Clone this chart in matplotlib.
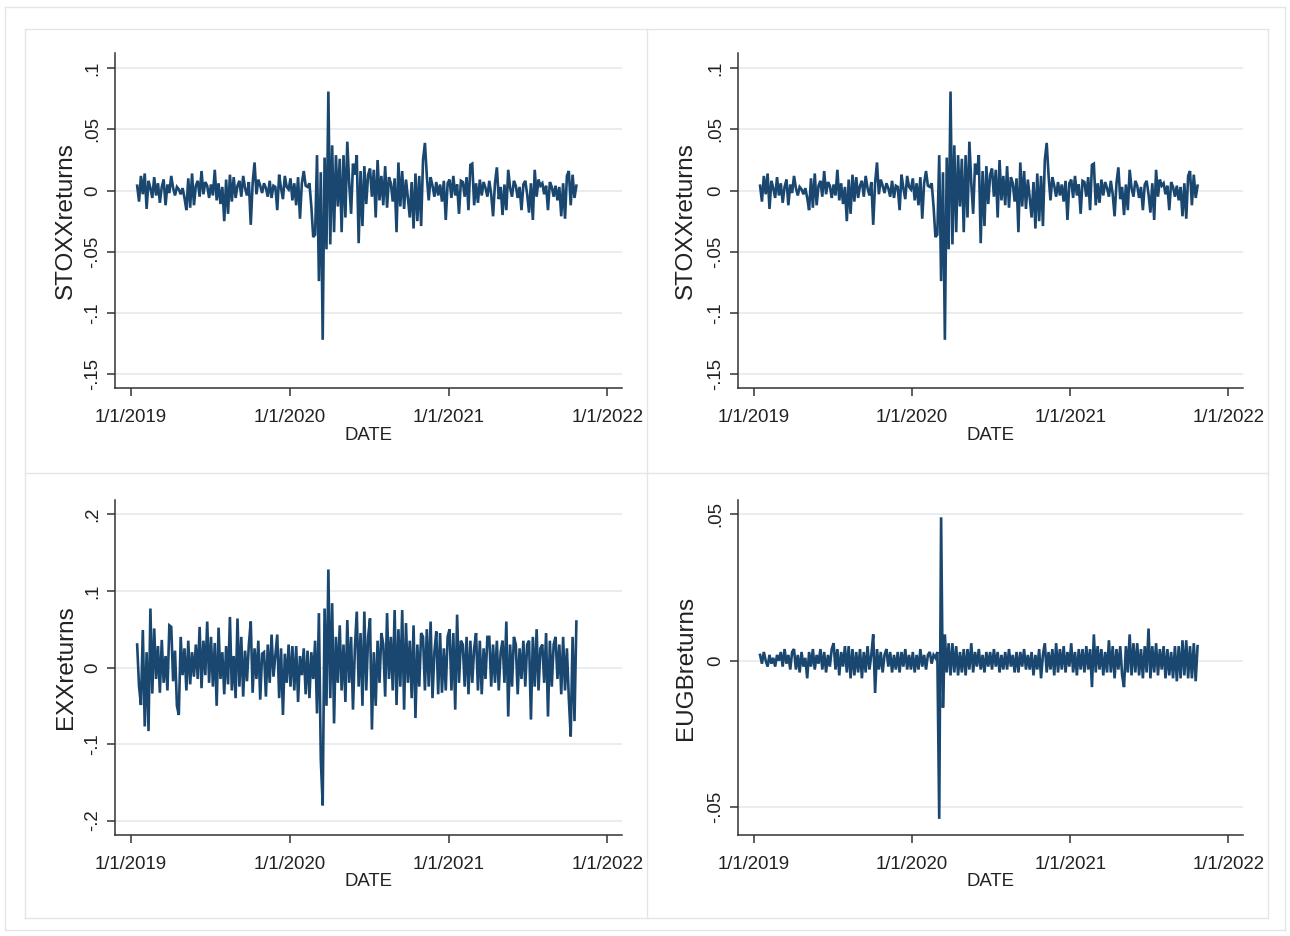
import numpy as np
import pandas as pd
import matplotlib
matplotlib.use("Agg")
import matplotlib.pyplot as plt
import matplotlib.dates as mdates
from matplotlib.lines import Line2D
from matplotlib.ticker import FuncFormatter, FixedLocator

plt.rcParams['font.family'] = ['Liberation Sans', 'DejaVu Sans']

# ---------------- data (~7 readings per month) ----------------
start_date, end_date = '2019-01-15', '2021-10-22'

stoxx_returns = [
    .004, -.009, .012, -.003,                      # Jan 19
    .014, -.015, .008, .002, -.006, .011, -.004,   # Feb 19
    .006, -.010, .003, .009, -.012, .005, -.002,   # Mar 19
    .012, .002, -.004, .003, .001, -.003, .002,    # Apr 19
    -.006, -.016, .010, -.014, .014, -.012, .004,  # May 19
    .008, -.005, .016, -.003, .007, .004, -.006,   # Jun 19
    .005, -.004, .017, -.008, .006, -.011, .003,   # Jul 19
    -.025, .009, -.019, .013, -.009, .011, -.006,  # Aug 19
    .004, .008, -.005, .012, .002, -.004, .007,    # Sep 19
    -.028, .006, .023, -.003, .009, .004, -.002,   # Oct 19
    .006, .002, -.005, .008, -.006, .004, .003,    # Nov 19
    -.016, .013, .002, -.007, .012, .003, .001,    # Dec 19
    .010, -.008, .006, -.012, .011, -.023, .006,   # Jan 20
    .016, .004, .003, .006, -.013, -.038, -.036,   # Feb 20
    .029, -.074, .015, -.122, .027, -.048, .081,   # Mar 20
    -.044, .037, -.034, .029, -.013, .026, -.034,  # Apr 20
    .029, -.022, .040, .006, -.019, .022, .013,    # May 20
    .029, -.043, .016, -.029, .020, -.011, .013,   # Jun 20
    .018, -.005, .017, -.022, .025, -.008, .012,   # Jul 20
    -.012, .020, -.014, .011, .006, -.009, .010,   # Aug 20
    -.034, .023, -.013, .016, -.015, .009, -.006,  # Sep 20
    -.022, .007, -.031, .014, -.025, .012, -.029,  # Oct 20
    .025, .039, .012, -.008, .011, .004, -.005,    # Nov 20
    .007, -.004, .005, -.009, .008, -.024, .006,   # Dec 20
    .009, -.006, .012, -.004, .005, -.019, .008,   # Jan 21
    .007, -.005, .011, -.016, .021, .022, -.012,   # Feb 21
    .006, -.010, .009, -.004, .007, .002, -.005,   # Mar 21
    .008, -.003, -.021, .006, .019, -.007, .003,   # Apr 21
    -.020, .005, -.016, .017, .002, -.005, .008,   # May 21
    .004, -.006, .003, -.016, .005, .008, -.003,   # Jun 21
    -.018, .006, -.024, .017, -.005, .009, .004,   # Jul 21
    .006, -.003, .004, -.016, .007, .003, -.005,   # Aug 21
    .004, -.008, .003, -.021, .006, -.023, .012,   # Sep 21
    .016, -.012, .013, -.006, .004,                # Oct 21
]

exx_returns = [
    .030, -.025, -.049, .049,
    -.077, .020, -.083, .077, -.034, .051, -.015,
    .028, -.033, .036, -.020, .015, -.030, .055,
    .053, -.018, .022, -.050, -.062, .040, -.010,
    .025, -.030, .035, -.022, .020, -.012, .030,
    -.015, .053, -.027, .035, -.010, .060, -.020,
    .040, -.025, .032, -.050, .052, -.015, .020,
    -.035, .028, -.022, .066, -.030, .015, -.040,
    .064, -.025, .040, -.038, .022, -.018, .030,
    .060, -.033, .025, -.015, .035, -.042, .018,
    .020, -.038, .030, -.020, .043, -.012, .015,
    .043, -.040, .025, -.062, .018, -.020, .030,
    -.025, .028, -.030, .028, -.045, .015, -.010,
    .025, -.035, .022, -.040, .020, -.015, .035,
    -.060, .071, -.120, -.180, .077, -.050, .128,
    -.040, .084, -.073, .040, -.020, .055, -.030,
    .030, -.045, .062, -.020, .040, -.055, .025,
    .073, -.025, .045, -.050, .073, -.030, .040,
    .064, -.081, .020, -.050, .035, -.020, .045,
    .030, -.038, .071, -.015, .040, -.030, .075,
    -.049, .050, -.025, .075, -.055, .058, -.020,
    .035, -.040, .055, -.066, .030, -.025, .045,
    .040, -.030, .050, -.025, .060, -.040, .020,
    .047, -.035, .045, -.033, .025, -.030, .040,
    .050, -.030, .045, -.055, .069, -.020, .035,
    .030, -.025, .040, -.035, .035, -.020, .025,
    .045, -.030, .035, -.035, .025, -.015, .040,
    .040, -.025, .030, -.020, .035, -.030, .020,
    .035, -.020, .060, -.064, .030, -.025, .040,
    .030, -.035, .025, -.015, .035, -.025, .030,
    .035, -.068, .040, -.025, .050, -.030, .025,
    .030, -.020, .045, -.064, .035, -.025, .030,
    .040, -.015, .030, -.035, .040, -.030, .025,
    -.040, -.090, .040, -.070, .060,
]

eugb_returns = [
    .002, -.001, .003, .000,
    -.002, .002, -.001, .001, -.002, .002, .000,
    .003, -.002, .004, -.001, .002, -.003, .003,
    .004, -.003, .002, -.004, .003, -.002, .001,
    -.006, .003, -.002, .004, -.003, .002, -.001,
    .004, -.003, .003, -.004, .002, -.002, .004,
    .006, -.003, .004, -.005, .003, -.002, .005,
    -.004, .005, -.006, .004, -.005, .003, -.004,
    .004, -.006, .003, -.004, .005, -.003, .002,
    .009, -.011, .004, -.003, .003, -.004, .002,
    .004, -.002, .003, -.004, .002, -.003, .003,
    -.004, .003, -.002, .004, -.003, .002, -.003,
    .003, -.004, .002, -.003, .004, -.002, .002,
    -.003, .002, .003, -.001, .002, .001, .003,
    -.054, .049, -.016, .009, -.004, .006, -.005,
    .006, -.004, .005, -.005, .003, -.004, .004,
    -.005, .004, -.003, .006, -.004, .003, -.002,
    .004, -.003, .002, -.004, .003, -.002, .003,
    -.003, .004, -.002, .003, -.004, .002, -.003,
    .003, -.003, .004, -.002, .002, -.004, .003,
    -.004, .003, -.002, .004, -.003, .002, -.003,
    .003, -.005, .002, -.003, .004, -.006, .002,
    .006, -.004, .003, -.003, .004, -.005, .006,
    -.004, .004, -.003, .005, -.004, .003, -.002,
    .006, -.004, .003, -.005, .004, -.003, .004,
    -.004, .005, -.003, .004, -.009, .009, -.004,
    .005, -.003, .004, -.005, .003, -.004, .007,
    -.004, .005, -.006, .004, -.003, .005, -.005,
    -.009, .005, -.004, .009, -.005, .006, -.004,
    .006, -.005, .004, -.006, .005, -.004, .011,
    -.006, .005, -.004, .006, -.005, .004, -.003,
    .005, -.006, .004, -.005, .003, -.006, .005,
    -.007, .005, -.006, .007, -.005, .007, -.006,
    .005, -.006, .006, -.007, .005,
]

tick_dates = ['2019-01-01', '2020-01-01', '2021-01-01', '2022-01-01']
tick_labels = ['1/1/2019', '1/1/2020', '1/1/2021', '1/1/2022']
x_label = 'DATE'

# ---------------- layout ----------------
W, H = 1290, 936
fig = plt.figure(figsize=(W / 100, H / 100), dpi=100)
fig.patch.set_facecolor('white')

LINE = '#1a476f'
AXC = '#333333'
GRID = '#e9edf0'
FS = 13.4


def fx(x):
    return x / W


def fy(y):
    return 1 - y / H


def add_line(x0, y0, x1, y1, color='#e2e6e9', lw=1.0):
    fig.add_artist(Line2D([fx(x0), fx(x1)], [fy(y0), fy(y1)], transform=fig.transFigure,
                          color=color, lw=lw, zorder=0))


# outer frame and panel separators
add_line(5, 7, 1285, 7); add_line(5, 930, 1285, 930)
add_line(5, 7, 5, 930); add_line(1285, 7, 1285, 930)
add_line(25, 29, 1268, 29); add_line(25, 918, 1268, 918)
add_line(25, 29, 25, 918); add_line(1268, 29, 1268, 918)
add_line(647, 29, 647, 918); add_line(25, 473, 1268, 473)


def stata_fmt(v, pos=None):
    if abs(v) < 1e-12:
        return '0'
    return f'{v:g}'.replace('0.', '.')


xlim = (mdates.date2num(pd.Timestamp('2018-11-25')), mdates.date2num(pd.Timestamp('2022-02-04')))

panels = [
    # (l, t, r, b), series, ylabel, ylim, yticks, ylabel_x, date_label_y
    ((115, 53, 622, 388), stoxx_returns, 'STOXXreturns', (-0.1614, 0.1125),
     [-.15, -.1, -.05, 0, .05, .1], 66, 436),
    ((738, 53, 1243, 388), stoxx_returns, 'STOXXreturns', (-0.1614, 0.1125),
     [-.15, -.1, -.05, 0, .05, .1], 686, 436),
    ((115, 500, 622, 835), exx_returns, 'EXXreturns', (-0.2187, 0.2187),
     [-.2, -.1, 0, .1, .2], 66, 882),
    ((738, 500, 1243, 835), eugb_returns, 'EUGBreturns', (-0.0595, 0.0549),
     [-.05, 0, .05], 686, 882),
]

for (l, t, r, b), series, ylab, ylim, yticks, ylx, dly in panels:
    ax = fig.add_axes([fx(l), fy(b), (r - l) / W, (b - t) / H])
    ax.set_facecolor('none')
    dates = pd.date_range(start_date, end_date, periods=len(series))
    ax.plot(dates, series, color=LINE, lw=1.9, solid_joinstyle='miter', zorder=3)
    ax.set_xlim(*xlim)
    ax.set_ylim(*ylim)
    ax.xaxis.set_major_locator(FixedLocator([mdates.date2num(pd.Timestamp(d)) for d in tick_dates]))
    ax.set_xticklabels(tick_labels)
    ax.yaxis.set_major_locator(FixedLocator(yticks))
    ax.yaxis.set_major_formatter(FuncFormatter(stata_fmt))
    for s in ('top', 'right'):
        ax.spines[s].set_visible(False)
    for s in ('left', 'bottom'):
        ax.spines[s].set_color(AXC)
        ax.spines[s].set_linewidth(1.1)
    ax.tick_params(axis='both', direction='out', length=6, width=1.1, color=AXC,
                   labelsize=FS, labelcolor='#222222')
    ax.tick_params(axis='x', pad=9)
    ax.tick_params(axis='y', pad=4, labelrotation=90)
    for lbl in ax.get_yticklabels():
        lbl.set_va('center')
    ax.yaxis.grid(True, color=GRID, lw=1.4, zorder=0)
    ax.xaxis.grid(False)
    ax.set_axisbelow(True)
    fig.text(fx(ylx), fy((t + b) / 2), ylab, rotation=90, ha='center', va='center',
             fontsize=17.5, color='#222222')
    fig.text(fx((l + r) / 2), fy(dly), x_label, ha='center', va='center',
             fontsize=FS, color='#222222')

fig.savefig('out.png', dpi=100, facecolor='white')
